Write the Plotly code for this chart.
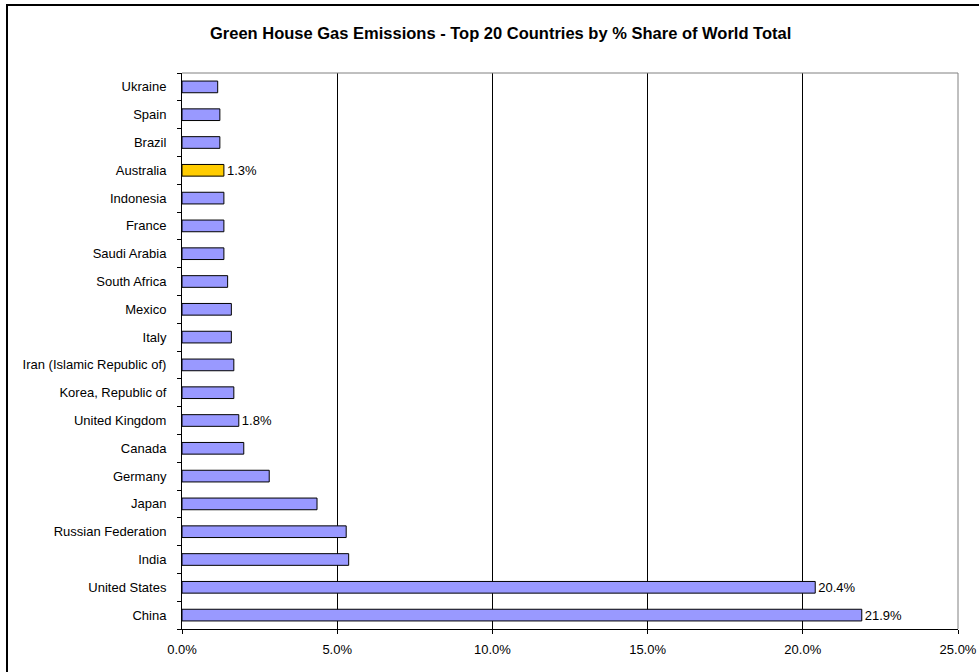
import plotly.graph_objects as go

countries = ["China", "United States", "India", "Russian Federation", "Japan", "Germany",
             "Canada", "United Kingdom", "Korea, Republic of", "Iran (Islamic Republic of)",
             "Italy", "Mexico", "South Africa", "Saudi Arabia", "France", "Indonesia",
             "Australia", "Brazil", "Spain", "Ukraine"]
shares = [21.9, 20.4, 5.37, 5.29, 4.35, 2.81, 1.99, 1.83, 1.67, 1.67,
          1.59, 1.59, 1.47, 1.35, 1.35, 1.35, 1.35, 1.22, 1.22, 1.15]
labels = ["21.9%", "20.4%", "", "", "", "", "", "1.8%", "", "",
          "", "", "", "", "", "", "1.3%", "", "", ""]
highlight = "Australia"
x_ticks = [0, 5, 10, 15, 20, 25]
x_tick_text = ["0.0%", "5.0%", "10.0%", "15.0%", "20.0%", "25.0%"]

W, H = 979, 672
ml, mr, mt, mb = 182, 21, 73, 43
pw, ph = W - ml - mr, H - mt - mb

FONT = "Liberation Sans, Arial"
colors = ["#FFCC00" if c == highlight else "#9999FF" for c in countries]

fig = go.Figure(go.Bar(
    y=countries, x=shares, orientation="h",
    marker=dict(color=colors, line=dict(color="#000000", width=1)),
    text=labels, textposition="outside", cliponaxis=False, constraintext="none",
    textfont=dict(family=FONT, size=13, color="#000000"),
))

def px_to_paper_x(p):
    return (p - ml) / pw

def px_to_paper_y(p):
    return 1 - (p - mt) / ph

fig.update_layout(
    width=W, height=H,
    margin=dict(l=ml, r=mr, t=mt, b=mb, autoexpand=False),
    paper_bgcolor="white", plot_bgcolor="white",
    showlegend=False,
    bargap=0.58,
    font=dict(family=FONT, size=13, color="#000000"),
    annotations=[dict(
        text="<b>Green House Gas Emissions - Top 20 Countries by % Share of World Total</b>",
        xref="paper", yref="paper",
        x=px_to_paper_x(500), y=px_to_paper_y(33),
        xanchor="center", yanchor="middle", showarrow=False,
        font=dict(family=FONT, size=16.5, color="#000000"),
    )],
    shapes=[
        dict(type="rect", xref="paper", yref="paper",
             x0=px_to_paper_x(7), x1=px_to_paper_x(W + 20),
             y0=px_to_paper_y(5), y1=px_to_paper_y(H + 20),
             line=dict(color="#000000", width=2), fillcolor="rgba(0,0,0,0)", layer="below"),
        dict(type="line", xref="paper", yref="paper", x0=0, x1=1, y0=1, y1=1,
             line=dict(color="#808080", width=1), layer="above"),
        dict(type="line", xref="paper", yref="paper", x0=1, x1=1, y0=0, y1=1,
             line=dict(color="#808080", width=1), layer="above"),
    ],
)

fig.update_xaxes(
    range=[0, 25], tickvals=x_ticks, ticktext=x_tick_text,
    showgrid=True, gridcolor="#000000", gridwidth=1,
    showline=True, linecolor="#000000", linewidth=1,
    ticks="outside", ticklen=4, tickcolor="#000000",
    zeroline=False, fixedrange=True, automargin=False,
    tickfont=dict(size=13), ticklabelstandoff=4,
)
fig.update_yaxes(
    type="category", categoryorder="array", categoryarray=countries,
    showgrid=False, showline=True, linecolor="#000000", linewidth=1,
    ticks="outside", ticklen=4, tickcolor="#000000", tickson="boundaries",
    fixedrange=True, automargin=False, tickfont=dict(size=13), ticklabelstandoff=12,
)

fig.write_html("out.html")
